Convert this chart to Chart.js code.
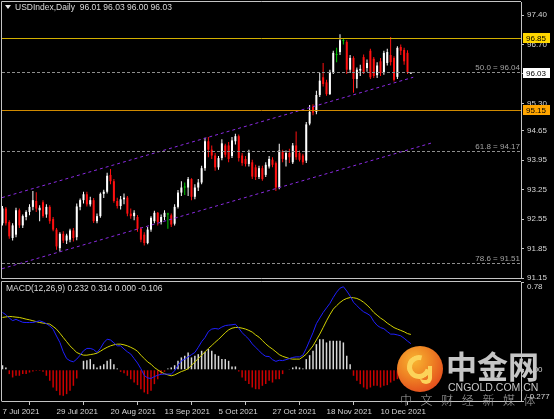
<!DOCTYPE html>
<html><head><meta charset="utf-8">
<script src="https://cdn.jsdelivr.net/npm/chart.js@4/dist/chart.umd.min.js"></script>
<style>
html,body{margin:0;padding:0;background:#000;width:554px;height:419px;overflow:hidden;}
#wrap{position:relative;width:554px;height:419px;background:#000;}
canvas{position:absolute;left:0;}
#c1{top:0;} #c2{top:280px;}
.t{position:absolute;font-family:'Liberation Sans',Arial,sans-serif;font-size:8.5px;line-height:10px;color:#dcdcdc;white-space:pre;}
#tri{position:absolute;left:5px;top:5px;width:0;height:0;border-left:3px solid transparent;border-right:3px solid transparent;border-top:4px solid #e6e6e6;}
#logo{position:absolute;left:397px;top:346px;width:46px;height:46px;border-radius:50%;background:radial-gradient(circle at 38% 32%,#f8b431 0%,#ef8424 40%,#e4521d 75%,#d8401b 100%);}
#swirl{position:absolute;left:407px;top:355px;width:14px;height:14px;border-radius:50%;border:5px solid #fcd35a;border-right-color:transparent;transform:rotate(-30deg);}
#swirl2{position:absolute;left:420px;top:366px;width:8px;height:14px;border-radius:0 0 10px 10px;border:4px solid #fcd35a;border-top:none;border-left:none;}
#wm1{position:absolute;left:446px;top:349px;font-family:'Noto Sans CJK SC',sans-serif;font-weight:bold;font-size:31px;line-height:31px;color:#c6c6c6;white-space:pre;}
#wm2{position:absolute;left:448px;top:382px;font-family:'Liberation Sans',Arial,sans-serif;font-size:10.5px;line-height:11px;color:#c8c8c8;white-space:pre;}
#wm3{position:absolute;left:400px;top:393px;font-family:'Noto Sans CJK SC',sans-serif;font-weight:300;font-size:12px;line-height:13px;letter-spacing:8.6px;color:#a6a6a6;white-space:pre;}
</style></head><body>
<div id="wrap">
<canvas id="c1" width="554" height="290"></canvas>
<canvas id="c2" width="554" height="139"></canvas>
<div id="tri"></div>
<div class="t" style="left:15px;top:2px;">USDIndex,Daily  96.01 96.03 96.00 96.03</div>
<div class="t" style="left:6px;top:283px;">MACD(12,26,9) 0.232 0.314 0.000 -0.106</div>
<div id="logo"></div><div id="swirl"></div><div id="swirl2"></div>
<div id="wm1">中金网</div>
<div id="wm2">CNGOLD.COM.CN</div>
<div id="wm3">中文财经新媒体</div>
</div>
<script>
// ---------- DATA ----------
const xTickIdx = [0,16,32,48,64,80,96,112];
const xTickLabels = ['7 Jul 2021','29 Jul 2021','20 Aug 2021','13 Sep 2021','5 Oct 2021','27 Oct 2021','18 Nov 2021','10 Dec 2021'];
const priceTicks = [97.40,96.70,96.00,95.30,94.65,93.95,93.25,92.55,91.85,91.15];

const openVals = [92.45,92.80,92.48,92.10,92.18,92.76,92.40,92.60,92.72,92.84,
92.98,92.76,92.95,92.66,92.84,92.55,92.30,91.86,92.20,92.04,
92.06,92.28,92.12,92.84,93.00,93.14,92.90,93.00,92.50,92.62,
93.15,93.20,93.60,93.45,92.98,92.86,93.02,93.06,92.68,92.62,
92.60,92.32,92.18,91.98,92.30,92.50,92.70,92.48,92.60,92.66,
92.64,92.44,92.84,93.18,93.30,93.30,93.50,93.08,93.30,93.42,
93.76,94.40,94.20,94.06,93.78,94.00,94.30,94.30,94.05,94.40,
94.52,94.06,93.98,93.86,93.90,93.78,93.55,93.76,93.60,93.80,
93.96,93.88,93.30,94.16,93.96,94.12,93.90,94.30,94.12,94.06,
93.94,94.82,95.22,95.10,95.50,95.92,95.80,95.52,96.04,96.45,
96.52,96.78,96.76,96.10,96.38,95.88,96.08,96.40,96.14,96.55,
96.36,95.97,96.30,96.04,96.26,96.45,96.38,95.93,96.64,96.57,
96.50,96.01];
const highVals = [92.86,92.84,92.52,92.45,92.82,92.80,92.66,92.76,92.90,93.22,
93.19,92.88,93.00,92.90,92.88,92.60,92.34,92.24,92.26,92.20,
92.32,92.34,92.92,93.04,93.20,93.20,93.08,93.05,92.68,93.18,
93.25,93.65,93.74,93.50,93.06,93.10,93.16,93.10,92.80,92.76,
92.65,92.36,92.24,92.36,92.62,92.75,92.72,92.66,92.76,92.70,
92.68,92.90,93.24,93.45,93.42,93.55,93.52,93.38,93.50,93.82,
94.48,94.50,94.30,94.12,94.05,94.45,94.34,94.38,94.50,94.58,
94.56,94.12,94.05,94.20,93.96,93.84,93.82,93.82,93.90,94.05,
94.02,93.92,94.34,94.20,94.18,94.22,94.36,94.63,94.18,94.10,
94.86,95.26,95.28,95.60,96.02,96.26,95.86,96.10,96.55,96.62,
96.94,96.84,96.80,96.45,96.42,96.15,96.22,96.46,96.34,96.60,
96.40,96.28,96.38,96.55,96.60,96.88,96.42,96.66,96.70,96.62,
96.56,96.03];
const lowVals = [92.40,92.40,92.08,92.04,92.12,92.34,92.34,92.52,92.64,92.76,
92.72,92.50,92.58,92.58,92.44,92.26,91.82,91.78,91.98,91.96,
92.00,92.02,92.05,92.76,92.92,92.85,92.85,92.46,92.45,92.58,
93.05,93.16,93.38,92.94,92.80,92.78,92.90,92.62,92.56,92.52,
92.25,92.00,91.92,91.95,92.25,92.45,92.40,92.42,92.52,92.32,
92.36,92.40,92.80,93.10,93.12,93.10,93.00,93.02,93.22,93.38,
93.70,94.02,93.98,93.70,93.72,93.95,94.02,93.90,94.00,94.32,
93.92,93.82,93.80,93.80,93.50,93.48,93.50,93.46,93.55,93.75,
93.78,93.22,93.26,93.90,93.80,93.88,93.86,93.96,93.92,93.84,
93.88,94.78,95.02,95.04,95.45,95.70,95.48,95.50,96.00,96.28,
96.45,96.70,96.00,96.02,95.55,95.66,95.95,96.00,96.05,95.88,
95.90,95.90,95.95,95.98,96.20,96.20,95.82,95.88,96.45,96.22,
96.00,96.00];
const closeVals = [92.80,92.45,92.14,92.40,92.76,92.40,92.62,92.72,92.84,93.00,
92.80,92.82,92.62,92.84,92.50,92.30,91.90,92.20,92.04,92.16,
92.28,92.10,92.85,93.00,93.14,92.90,93.00,92.50,92.62,93.15,
93.20,93.58,93.45,92.98,92.86,93.02,93.06,92.68,92.62,92.70,
92.32,92.06,91.98,92.30,92.58,92.70,92.48,92.60,92.70,92.66,
92.42,92.84,93.18,93.30,93.30,93.50,93.08,93.30,93.42,93.76,
94.40,94.20,94.06,93.78,94.00,94.35,94.08,93.98,94.42,94.52,
94.00,93.88,93.86,94.12,93.56,93.55,93.76,93.50,93.84,93.98,
93.84,93.30,94.18,93.98,94.12,94.02,94.30,94.02,93.96,93.90,
94.80,95.10,95.08,95.50,95.84,95.76,95.52,96.04,96.50,96.45,
96.80,96.78,96.10,96.38,95.88,96.10,96.12,96.04,96.26,95.92,
95.95,96.20,96.02,96.50,96.52,96.28,95.86,96.62,96.55,96.30,
96.04,96.03];

const macdMain = [0.509,0.49,0.46,0.437,0.448,0.435,0.422,0.42,0.42,0.42,
0.428,0.435,0.425,0.41,0.39,0.36,0.30,0.243,0.16,0.10,
0.08,0.071,0.095,0.13,0.169,0.19,0.19,0.18,0.154,0.19,
0.24,0.272,0.265,0.24,0.213,0.213,0.185,0.16,0.14,0.10,
0.06,0.01,-0.05,-0.072,-0.077,-0.06,-0.048,-0.04,-0.038,-0.038,
-0.038,-0.009,0.04,0.08,0.095,0.115,0.135,0.154,0.20,0.25,
0.287,0.34,0.362,0.367,0.362,0.38,0.393,0.397,0.40,0.405,
0.37,0.33,0.30,0.272,0.23,0.20,0.17,0.14,0.12,0.118,
0.09,0.075,0.085,0.082,0.09,0.10,0.11,0.115,0.115,0.13,
0.19,0.26,0.33,0.41,0.46,0.509,0.55,0.59,0.643,0.69,
0.725,0.738,0.70,0.655,0.60,0.57,0.54,0.515,0.50,0.48,
0.43,0.395,0.375,0.365,0.34,0.317,0.317,0.31,0.302,0.28,
0.255,0.232];
const macdSignal = [0.465,0.47,0.474,0.472,0.468,0.465,0.458,0.45,0.444,0.436,
0.428,0.42,0.415,0.41,0.406,0.385,0.361,0.325,0.287,0.25,
0.213,0.183,0.154,0.14,0.13,0.13,0.135,0.14,0.148,0.165,
0.184,0.2,0.213,0.222,0.228,0.228,0.222,0.213,0.2,0.185,
0.165,0.13,0.10,0.07,0.05,0.02,0.0,-0.02,-0.035,-0.045,
-0.053,-0.045,-0.03,-0.015,-0.005,0.01,0.04,0.07,0.10,0.13,
0.16,0.19,0.215,0.245,0.27,0.30,0.33,0.355,0.37,0.376,
0.376,0.37,0.362,0.35,0.335,0.31,0.29,0.26,0.23,0.205,
0.184,0.16,0.135,0.12,0.11,0.10,0.095,0.095,0.095,0.115,
0.139,0.175,0.213,0.265,0.317,0.375,0.435,0.49,0.539,0.57,
0.598,0.62,0.634,0.642,0.64,0.634,0.62,0.60,0.575,0.545,
0.51,0.485,0.46,0.44,0.415,0.395,0.375,0.362,0.35,0.338,
0.322,0.314];
const macdHist = [0.041,0.021,-0.038,-0.068,-0.053,-0.053,-0.038,-0.038,-0.024,-0.015,
-0.009,-0.009,-0.018,-0.053,-0.098,-0.157,-0.187,-0.225,-0.231,-0.216,
-0.187,-0.142,-0.077,0.000,0.080,0.086,0.095,0.050,0.021,0.036,
0.050,0.080,0.095,0.050,0.012,-0.018,-0.030,-0.053,-0.083,-0.113,
-0.136,-0.172,-0.201,-0.216,-0.187,-0.127,-0.083,-0.038,-0.018,0.012,
0.021,0.041,0.080,0.110,0.124,0.154,0.110,0.124,0.139,0.169,
0.160,0.184,0.169,0.139,0.124,0.095,0.095,0.080,0.030,0.030,
-0.015,-0.068,-0.098,-0.127,-0.157,-0.172,-0.172,-0.142,-0.127,-0.098,
-0.113,-0.083,-0.083,-0.038,0.000,0.006,0.021,0.030,0.021,0.012,
0.095,0.130,0.169,0.228,0.272,0.272,0.243,0.258,0.258,0.258,
0.258,0.243,0.124,0.050,-0.053,-0.098,-0.127,-0.157,-0.172,-0.157,
-0.142,-0.142,-0.157,-0.142,-0.136,-0.113,-0.098,-0.083,-0.090,-0.092,
-0.100,-0.106];
const macdTicks = [0.78,0.00,-0.277];
const macdTickLabels = ['0.78','0.00','-0.277'];

const upperChannelX = [-0.15,121.7], upperChannelY = [93.06,95.92];
const lowerChannelX = [-0.15,127.6], lowerChannelY = [91.37,94.37];
const resistLevel = 96.85, supportLevel = 95.15, bidPrice = 96.03;
const fibLevels = [96.04,94.17,91.51];
const fibNames = ['50.0','61.8','78.6'];

// ---------- SETUP ----------
const xMin = -0.15, xMax = 153.63;
const FONT = "'Liberation Sans', Arial, sans-serif";
const idx = closeVals.map((_, i) => i);
const candleCol = idx.map(i => closeVals[i] > openVals[i] ? '#ffffff' : (closeVals[i] < openVals[i] ? '#ff1010' : '#00cc00'));
const AX = '#c4c4c4', TX = '#d6d6d6';
const common = {responsive:false, maintainAspectRatio:false, animation:false, devicePixelRatio:1, events:[],
  plugins:{legend:{display:false}, tooltip:{enabled:false}}};

const mainDecor = {
  id:'mainDecor',
  afterDatasetsDraw(chart){
    const {ctx, chartArea:a, scales:{y}} = chart;
    ctx.save();
    ctx.beginPath(); ctx.rect(a.left, a.top, a.right-a.left, a.bottom-a.top); ctx.clip();
    ctx.lineWidth = 1;
    fibLevels.forEach((v,k) => {
      const py = Math.round(y.getPixelForValue(v)) + 0.5;
      ctx.strokeStyle = '#8e8e8e'; ctx.setLineDash([3,2]);
      ctx.beginPath(); ctx.moveTo(a.left, py); ctx.lineTo(a.right, py); ctx.stroke();
      ctx.setLineDash([]);
      ctx.fillStyle = '#a4a4a4'; ctx.font = '8px ' + FONT; ctx.textAlign = 'right'; ctx.textBaseline = 'alphabetic';
      ctx.fillText(fibNames[k] + ' = ' + v.toFixed(2), a.right - 1, py - 2.5);
    });
    [[resistLevel,'#d2b000'],[supportLevel,'#d08a00']].forEach(([v,c]) => {
      const py = Math.round(y.getPixelForValue(v)) + 0.5;
      ctx.strokeStyle = c; ctx.beginPath(); ctx.moveTo(a.left, py); ctx.lineTo(a.right, py); ctx.stroke();
    });
    ctx.restore();
    ctx.save();
    ctx.strokeStyle = AX; ctx.lineWidth = 1;
    ctx.beginPath();
    ctx.moveTo(a.left-0.5, a.top-0.5); ctx.lineTo(a.right, a.top-0.5);
    ctx.moveTo(a.left-0.5, a.top-0.5); ctx.lineTo(a.left-0.5, a.bottom+0.5);
    ctx.moveTo(a.left-0.5, a.bottom+0.5); ctx.lineTo(a.right, a.bottom+0.5);
    ctx.stroke();
    ctx.restore();
  },
  afterDraw(chart){
    const {ctx, scales:{y}} = chart;
    const box = (v, bg) => {
      const py = Math.round(y.getPixelForValue(v));
      ctx.fillStyle = bg; ctx.fillRect(523, py-5, 27, 10);
      ctx.fillStyle = '#000'; ctx.font = '8px ' + FONT; ctx.textAlign = 'left'; ctx.textBaseline = 'middle';
      ctx.fillText(v.toFixed(2), 526, py + 0.5);
    };
    box(resistLevel, '#ffd700');
    box(bidPrice, '#ffffff');
    box(supportLevel, '#ffa500');
  }
};

new Chart(document.getElementById('c1'), {
  type:'bar',
  data:{datasets:[
    {type:'line', data: upperChannelX.map((x,k)=>({x, y:upperChannelY[k]})), borderColor:'#8a2be2', borderWidth:1, borderDash:[3,3], pointRadius:0, order:0},
    {type:'line', data: lowerChannelX.map((x,k)=>({x, y:lowerChannelY[k]})), borderColor:'#8a2be2', borderWidth:1, borderDash:[3,3], pointRadius:0, order:0},
    {type:'bar', data: idx.map(i=>({x:i, y:[openVals[i], closeVals[i]]})), backgroundColor:candleCol, barThickness:2, minBarLength:1, grouped:false, inflateAmount:0, borderWidth:0, order:1},
    {type:'bar', data: idx.map(i=>({x:i, y:[lowVals[i], highVals[i]]})), backgroundColor:candleCol, barThickness:1, grouped:false, inflateAmount:0, borderWidth:0, order:2}
  ]},
  options:Object.assign({}, common, {
    layout:{padding:{left:2, top:2, right:0, bottom:12}},
    scales:{
      x:{type:'linear', min:xMin, max:xMax, display:false, offset:false},
      y:{position:'right', min:91.15, max:97.709,
        afterBuildTicks: s => { s.ticks = priceTicks.map(v => ({value:v})); },
        afterFit: s => { s.width = 33; s.paddingTop = 0; s.paddingBottom = 0; },
        ticks:{color:TX, font:{family:FONT, size:8}, padding:3, autoSkip:false, callback: v => Number(v).toFixed(2)},
        grid:{drawOnChartArea:false, drawTicks:true, tickLength:3, color:AX},
        border:{display:true, color:AX}}
    }
  }),
  plugins:[mainDecor]
});

const macdDecor = {
  id:'macdDecor',
  afterDraw(chart){
    const {ctx, chartArea:a, scales:{y}} = chart;
    ctx.save();
    ctx.strokeStyle = AX; ctx.lineWidth = 1;
    ctx.beginPath();
    ctx.moveTo(a.left-0.5, a.top-0.5); ctx.lineTo(a.right, a.top-0.5);
    ctx.moveTo(a.left-0.5, a.top-0.5); ctx.lineTo(a.left-0.5, a.bottom+0.5);
    ctx.stroke();
    ctx.fillStyle = TX; ctx.font = '8px ' + FONT; ctx.textAlign = 'left'; ctx.textBaseline = 'middle';
    const ys = [a.top + 5, y.getPixelForValue(0), a.bottom - 4];
    macdTickLabels.forEach((t,k) => ctx.fillText(t, 527, ys[k]));
    ctx.restore();
  }
};

new Chart(document.getElementById('c2'), {
  type:'bar',
  data:{datasets:[
    {type:'line', data: idx.map(i=>({x:i, y:macdMain[i]})), borderColor:'#1f1fff', borderWidth:1, pointRadius:0, tension:0, order:0},
    {type:'line', data: idx.map(i=>({x:i, y:macdSignal[i]})), borderColor:'#d2d200', borderWidth:1, pointRadius:0, tension:0, order:0},
    {type:'bar', data: idx.map(i=>({x:i, y:macdHist[i]})), backgroundColor: idx.map(i => macdHist[i] >= 0 ? '#d8d8d8' : '#cc0000'), barThickness:1.5, grouped:false, inflateAmount:0, borderWidth:0, order:1}
  ]},
  options:Object.assign({}, common, {
    layout:{padding:{left:2, top:2, right:0, bottom:0}},
    scales:{
      x:{type:'linear', position:'bottom', min:xMin, max:xMax, offset:false,
        afterBuildTicks: s => { s.ticks = xTickIdx.map(v => ({value:v})); },
        afterFit: s => { s.height = 18; s.paddingLeft = 0; s.paddingRight = 0; },
        ticks:{color:TX, font:{family:FONT, size:8}, align:'start', autoSkip:false, maxRotation:0, padding:2,
          callback: (v, k) => xTickLabels[k]},
        grid:{drawOnChartArea:false, drawTicks:true, tickLength:4, color:AX},
        border:{display:true, color:AX}},
      y:{position:'right', min:-0.277, max:0.78,
        afterBuildTicks: s => { s.ticks = macdTicks.map(v => ({value:v})); },
        afterFit: s => { s.width = 33; s.paddingTop = 0; s.paddingBottom = 0; },
        ticks:{color:'rgba(0,0,0,0)', font:{family:FONT, size:8}, padding:3, autoSkip:false},
        grid:{drawOnChartArea:false, drawTicks:true, tickLength:3, color:AX},
        border:{display:true, color:AX}}
    }
  }),
  plugins:[macdDecor]
});
</script>
</body></html>
